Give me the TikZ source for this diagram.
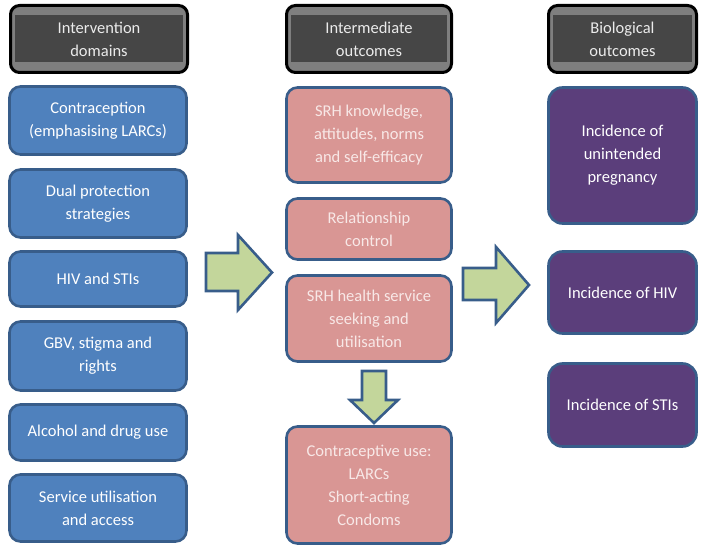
\documentclass[tikz,border=0pt]{standalone}
\usepackage{fontspec}
\setmainfont{Carlito}
\definecolor{hdrdark}{HTML}{464646}
\definecolor{hdrband}{HTML}{7F7F7F}
\definecolor{domblue}{HTML}{4F81BD}
\definecolor{edgeblue}{HTML}{385D8A}
\definecolor{midpink}{HTML}{D99694}
\definecolor{pinktext}{HTML}{F8E8E7}
\definecolor{biopurple}{HTML}{5B3E7B}
\definecolor{arrowgreen}{HTML}{C3D69B}
\tikzset{
  hdrbox/.style={draw=black, line width=3pt, fill=hdrband, rounded corners=9pt,
    text=white!92!black, align=center, minimum height=67pt,
    path picture={\fill[hdrdark, sharp corners] ([shift={(4.5pt,-10pt)}]path picture bounding box.north west)
      rectangle ([shift={(-4.5pt,10pt)}]path picture bounding box.south east);}},
  dombox/.style={draw=edgeblue, line width=2.6pt, fill=domblue, rounded corners=11pt,
    text=white, align=center, minimum width=177pt},
  midbox/.style={draw=edgeblue, line width=2.6pt, fill=midpink, rounded corners=11pt,
    text=pinktext, align=center, minimum width=165pt},
  biobox/.style={draw=edgeblue, line width=2.6pt, fill=biopurple, rounded corners=14pt,
    text=white, align=center, minimum width=148pt},
  blockarrow/.style={draw=edgeblue, line width=2.6pt, fill=arrowgreen, line join=miter}
}
\begin{document}
\begin{tikzpicture}[x=1pt, y=-1pt, font=\fontsize{16.5}{23}\selectfont]
  \useasboundingbox (0,0) rectangle (703,548);

  % column headers
  \node[hdrbox, minimum width=177pt] (hdrdom) at (99,39) {Intervention\\domains};
  \node[hdrbox, minimum width=165pt] (hdrmid) at (369,39) {Intermediate\\outcomes};
  \node[hdrbox, minimum width=148pt] (hdrbio) at (622.5,39) {Biological\\outcomes};

  % intervention domains
  \node[dombox, minimum height=68pt] (contra) at (98,120.5) {Contraception\\(emphasising LARCs)};
  \node[dombox, minimum height=68pt] (dual) at (98,203.5) {Dual protection\\strategies};
  \node[dombox, minimum height=55pt] (hivsti) at (98,279) {HIV and STIs};
  \node[dombox, minimum height=69pt] (gbv) at (98,356) {GBV, stigma and\\rights};
  \node[dombox, minimum height=56pt] (alcohol) at (98,432.5) {Alcohol and drug use};
  \node[dombox, minimum height=67pt] (service) at (98,508) {Service utilisation\\and access};

  % intermediate outcomes
  \node[midbox, minimum height=95pt] (knowledge) at (369,135) {SRH knowledge,\\attitudes, norms\\and self-efficacy};
  \node[midbox, minimum height=61pt] (relation) at (369,229) {Relationship\\control};
  \node[midbox, minimum height=86pt] (seeking) at (369,318.5) {SRH health service\\seeking and\\utilisation};
  \node[midbox, minimum height=117pt] (contruse) at (369,485) {Contraceptive use:\\LARCs\\Short-acting\\Condoms};

  % biological outcomes
  \node[biobox, minimum height=136pt] (pregnancy) at (622.5,155.5) {Incidence of\\unintended\\pregnancy};
  \node[biobox, minimum height=82pt] (inchiv) at (622.5,292.5) {Incidence of HIV};
  \node[biobox, minimum height=83pt] (incsti) at (622.5,405) {Incidence of STIs};

  % block arrows
  \draw[blockarrow] (206,253) -- (238,253) -- (238,235) -- (272,272.5) -- (238,310) -- (238,291) -- (206,291) -- cycle;
  \draw[blockarrow] (463,268) -- (496,268) -- (496,247) -- (529,285) -- (496,323) -- (496,300) -- (463,300) -- cycle;
  \draw[blockarrow] (362,371) -- (386,371) -- (386,400) -- (398,400) -- (374,423) -- (350,400) -- (362,400) -- cycle;
\end{tikzpicture}
\end{document}
